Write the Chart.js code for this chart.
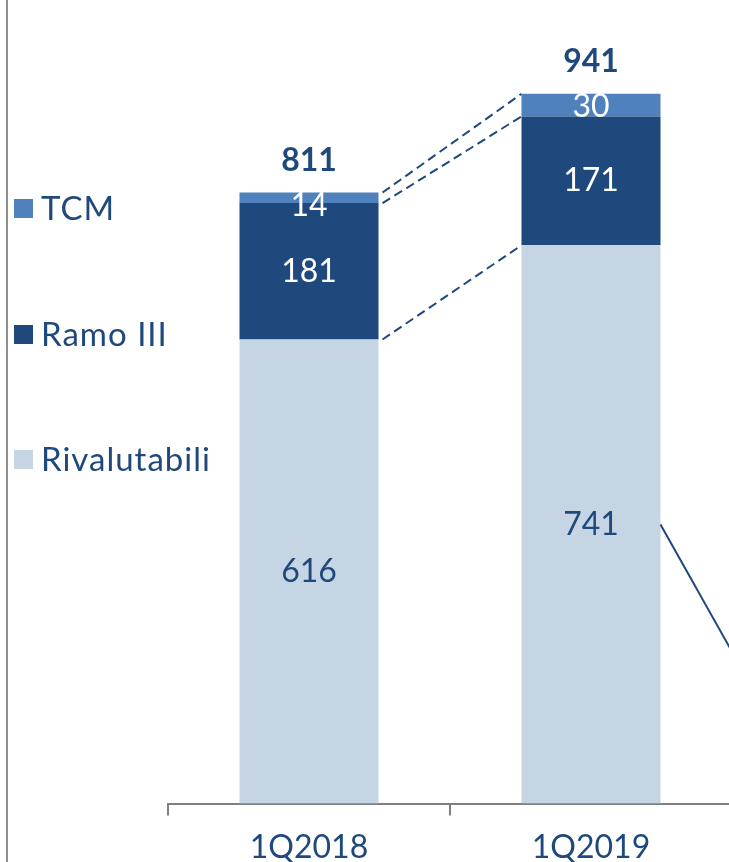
<!DOCTYPE html>
<html>
<head>
<meta charset="utf-8">
<script src="https://cdn.jsdelivr.net/npm/chart.js@4.4.0/dist/chart.umd.min.js"></script>
<style>
  html, body { margin: 0; padding: 0; background: #fff; overflow: hidden; }
  #wrap { position: relative; width: 735px; height: 862px; }
  #frame { position: absolute; left: 6px; top: 0; width: 2px; height: 862px; background: #8f8f8f; }
</style>
</head>
<body>
<div id="wrap">
  <canvas id="myChart"></canvas>
  <div id="frame"></div>
</div>
<script>
// data
var categories = ['1Q2018', '1Q2019'];
var rivalutabili = [616, 741];
var ramoIII = [181, 171];
var tcm = [14, 30];
var totals = [811, 941];
var seriesNames = ['Rivalutabili', 'Ramo III', 'TCM'];

var dark = '#1f497d';
var fontFamily = 'Lato, "Open Sans", sans-serif';

// labels, totals, connectors and the legend drawn on top of the bars
var extras = {
    id: 'extras',
    afterDatasetsDraw: function(chart) {
        var c = chart.ctx;
        var metas = [0, 1, 2].map(function(i) { return chart.getDatasetMeta(i); });

        // dashed connectors between the segment tops
        c.save();
        c.strokeStyle = dark;
        c.lineWidth = 2;
        c.setLineDash([9, 5]);
        metas.forEach(function(m) {
            var a = m.data[0], b = m.data[1];
            c.beginPath();
            c.moveTo(a.x + a.width / 2 + 4, a.y);
            c.lineTo(b.x - b.width / 2, b.y);
            c.stroke();
        });
        c.restore();

        // solid line leaving the 1Q2019 Rivalutabili segment
        var r = metas[0].data[1];
        var sx = r.x + r.width / 2, sy = (r.y + r.base) / 2;
        c.save();
        c.strokeStyle = dark;
        c.lineWidth = 2;
        c.beginPath();
        c.moveTo(sx, sy);
        c.lineTo(sx + 100, sy + 178);
        c.stroke();
        c.restore();

        // segment values
        c.save();
        c.textAlign = 'center';
        c.textBaseline = 'middle';
        c.font = '32px ' + fontFamily;
        metas.forEach(function(m, di) {
            var ds = chart.data.datasets[di];
            m.data.forEach(function(bar, i) {
                var h = bar.base - bar.y;
                var y = (bar.y + bar.base) / 2 + Math.max(0, (26 - h) / 2);
                c.fillStyle = di === 0 ? dark : '#ffffff';
                c.fillText(ds.data[i], bar.x, y);
            });
        });

        // totals
        c.font = 'bold 32px ' + fontFamily;
        c.fillStyle = dark;
        metas[2].data.forEach(function(bar, i) {
            c.fillText(totals[i], bar.x, bar.y - 32);
        });
        c.restore();
    },
    afterDraw: function(chart) {
        var c = chart.ctx;
        var rows = [208, 334, 459];
        c.save();
        c.textBaseline = 'middle';
        c.textAlign = 'left';
        c.font = '33px ' + fontFamily;
        c.letterSpacing = '1px';
        [2, 1, 0].forEach(function(di, k) {
            var ds = chart.data.datasets[di];
            c.fillStyle = ds.backgroundColor;
            c.fillRect(14, rows[k] - 9, 19, 19);
            c.fillStyle = dark;
            c.fillText(ds.label, 41, rows[k] + 1);
        });
        c.restore();
    }
};

var ctx = document.getElementById('myChart').getContext('2d');
var chart = new Chart(ctx, {
    type: 'bar',
    data: {
        labels: categories,
        datasets: [{
            label: seriesNames[0],
            data: rivalutabili,
            backgroundColor: '#c5d5e4'
        }, {
            label: seriesNames[1],
            data: ramoIII,
            backgroundColor: '#1f497d'
        }, {
            label: seriesNames[2],
            data: tcm,
            backgroundColor: '#4f81bd'
        }]
    },
    options: {
        responsive: true,
        maintainAspectRatio: false,
        animation: false,
        datasets: {
            bar: { categoryPercentage: 1, barPercentage: 0.493, borderWidth: 0 }
        },
        layout: { padding: { left: 168, right: 3, top: 20, bottom: -18 } },
        plugins: {
            legend: { display: false },
            tooltip: { enabled: false }
        },
        scales: {
            x: {
                stacked: true,
                border: { color: '#7f7f7f', width: 2 },
                grid: {
                    display: true,
                    drawOnChartArea: false,
                    drawTicks: true,
                    tickLength: 12,
                    color: '#7f7f7f',
                    lineWidth: 2
                },
                ticks: {
                    color: dark,
                    padding: 13,
                    font: { family: fontFamily, size: 32 }
                }
            },
            y: {
                stacked: true,
                display: false,
                min: 0,
                max: 1040
            }
        }
    },
    plugins: [extras]
});
</script>
</body>
</html>
